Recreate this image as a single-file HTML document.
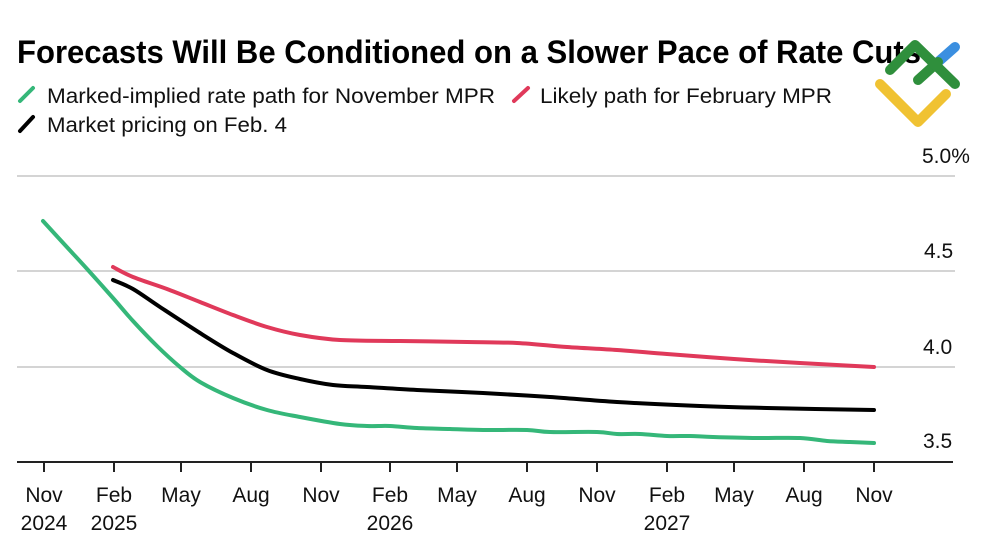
<!DOCTYPE html>
<html><head><meta charset="utf-8"><style>
html,body{margin:0;padding:0;background:#fff;}
svg{display:block;}
text{font-family:"Liberation Sans",Arial,sans-serif;}
</style></head><body>
<svg id="c" width="1000" height="545" viewBox="0 0 1000 545" xmlns="http://www.w3.org/2000/svg">
<rect width="1000" height="545" fill="#fff"/>
<text x="17" y="63" font-size="32" font-weight="bold" fill="#000" textLength="904" lengthAdjust="spacingAndGlyphs">Forecasts Will Be Conditioned on a Slower Pace of Rate Cuts</text>
<!-- legend -->
<line x1="20" y1="101" x2="33" y2="88" stroke="#35b779" stroke-width="4" stroke-linecap="round"/>
<text x="47" y="103" font-size="21" fill="#111" textLength="448" lengthAdjust="spacingAndGlyphs">Marked-implied rate path for November MPR</text>
<line x1="514" y1="101" x2="528" y2="88" stroke="#e0395a" stroke-width="4" stroke-linecap="round"/>
<text x="540" y="103" font-size="21" fill="#111" textLength="292" lengthAdjust="spacingAndGlyphs">Likely path for February MPR</text>
<line x1="20" y1="131" x2="33" y2="117" stroke="#000" stroke-width="4" stroke-linecap="round"/>
<text x="47" y="132" font-size="21" fill="#111" textLength="240" lengthAdjust="spacingAndGlyphs">Market pricing on Feb. 4</text>
<!-- gridlines -->
<g stroke="#d4d4d4" stroke-width="2">
<line x1="17" y1="176" x2="955" y2="176"/>
<line x1="17" y1="271" x2="955" y2="271"/>
<line x1="17" y1="367" x2="955" y2="367"/>
</g>
<!-- y labels -->
<g font-size="21" fill="#111">
<text x="922" y="163">5.0%</text>
<text x="924" y="258">4.5</text>
<text x="923" y="354">4.0</text>
<text x="923" y="448">3.5</text>
</g>
<!-- axis -->
<line x1="17" y1="462" x2="953" y2="462" stroke="#222" stroke-width="2"/>
<g stroke="#222" stroke-width="2">
<line x1="44" y1="462" x2="44" y2="472"/>
<line x1="114" y1="462" x2="114" y2="472"/>
<line x1="181" y1="462" x2="181" y2="472"/>
<line x1="251" y1="462" x2="251" y2="472"/>
<line x1="321" y1="462" x2="321" y2="472"/>
<line x1="390" y1="462" x2="390" y2="472"/>
<line x1="457" y1="462" x2="457" y2="472"/>
<line x1="527" y1="462" x2="527" y2="472"/>
<line x1="597" y1="462" x2="597" y2="472"/>
<line x1="667" y1="462" x2="667" y2="472"/>
<line x1="734" y1="462" x2="734" y2="472"/>
<line x1="804" y1="462" x2="804" y2="472"/>
<line x1="874" y1="462" x2="874" y2="472"/>
</g>
<g font-size="21" fill="#111" text-anchor="middle">
<text x="44" y="502">Nov</text><text x="44" y="530">2024</text>
<text x="114" y="502">Feb</text><text x="114" y="530">2025</text>
<text x="181" y="502">May</text>
<text x="251" y="502">Aug</text>
<text x="321" y="502">Nov</text>
<text x="390" y="502">Feb</text><text x="390" y="530">2026</text>
<text x="457" y="502">May</text>
<text x="527" y="502">Aug</text>
<text x="597" y="502">Nov</text>
<text x="667" y="502">Feb</text><text x="667" y="530">2027</text>
<text x="734" y="502">May</text>
<text x="804" y="502">Aug</text>
<text x="874" y="502">Nov</text>
</g>
<!-- series -->
<g id="series" fill="none" stroke-width="4" stroke-linecap="round" stroke-linejoin="round">
<polyline stroke="#e0395a" points="113,267 133,277 167,289 200,302 233,315 267,327 300,335 340,340 400,341 467,342 517,343 567,347 617,350 667,354 734,359 800,363 874,367"/>
<polyline stroke="#000" points="113,280 133,289 160,307 200,333 233,353 267,370 300,379 333,385 367,387 417,390 483,393 550,397 617,402 700,406 767,408 874,410"/>
<polyline stroke="#35b779" points="43,221 65,245 88,270 113,298 133,321 157,346 180,367 200,382 233,398 267,410 300,417 340,424 367,426 390,426 417,428 450,429 483,430 527,430 550,432 597,432 617,434 640,434 667,436 690,436 713,437 757,438 800,438 827,441 850,442 874,443"/>
</g>
<!-- logo -->
<g fill="none" stroke-width="10" stroke-linecap="round" stroke-linejoin="round">
<polyline stroke="#f0c232" points="880,84 918,122 946,94"/>
<line x1="938" y1="62" x2="955" y2="47" stroke="#3b8fe0"/>
<line x1="918" y1="80" x2="938" y2="62" stroke="#2f8f3c"/>
<polyline stroke="#2f8f3c" points="890,70 915,45 955,84"/>
</g>
</svg>
<script>
(function(){
  var ns="http://www.w3.org/2000/svg";
  var g=document.getElementById("series");
  var pls=Array.prototype.slice.call(g.getElementsByTagName("polyline"));
  pls.forEach(function(pl){
    var pts=pl.getAttribute("points").trim().split(/\s+/).map(function(s){var a=s.split(",");return [+a[0],+a[1]];});
    var d="M"+pts[0][0]+","+pts[0][1];
    for(var i=0;i<pts.length-1;i++){
      var p0=pts[i-1]||pts[i],p1=pts[i],p2=pts[i+1],p3=pts[i+2]||p2;
      var c1x=p1[0]+(p2[0]-p0[0])/6,c1y=p1[1]+(p2[1]-p0[1])/6;
      var c2x=p2[0]-(p3[0]-p1[0])/6,c2y=p2[1]-(p3[1]-p1[1])/6;
      d+=" C"+c1x.toFixed(2)+","+c1y.toFixed(2)+" "+c2x.toFixed(2)+","+c2y.toFixed(2)+" "+p2[0]+","+p2[1];
    }
    var p=document.createElementNS(ns,"path");
    p.setAttribute("d",d);
    p.setAttribute("stroke",pl.getAttribute("stroke"));
    g.replaceChild(p,pl);
  });
})();
</script>
</body></html>
